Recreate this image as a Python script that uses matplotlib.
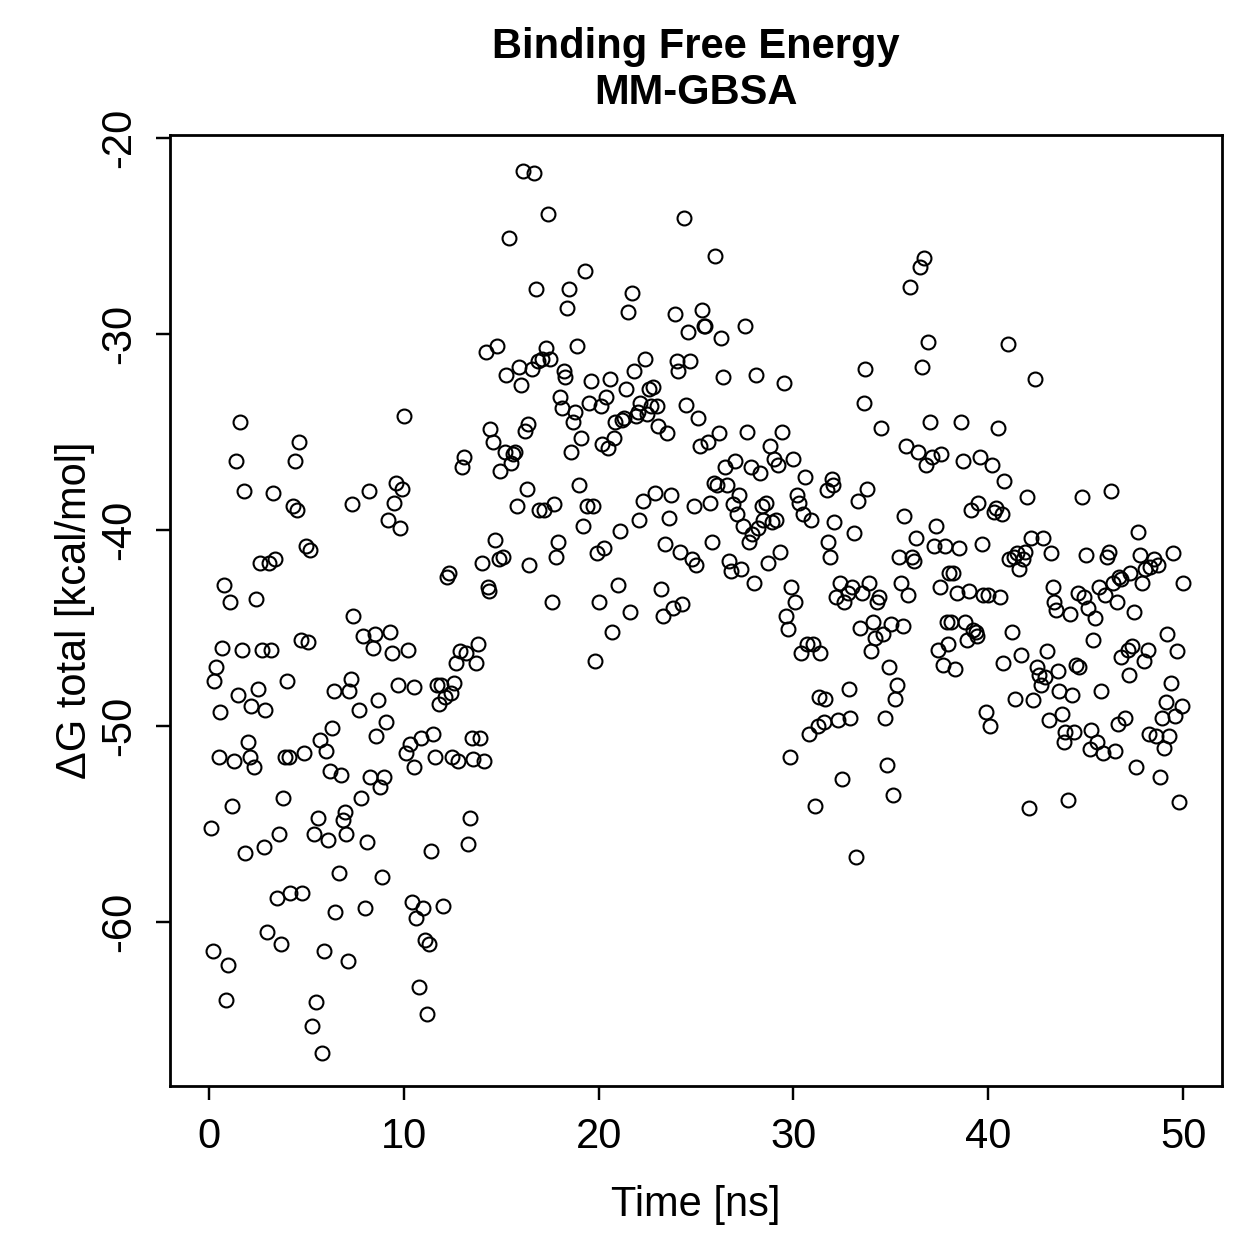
import matplotlib
matplotlib.use("Agg")
import matplotlib.pyplot as plt

# --- data (time in ns, dG in kcal/mol) ---
time_ns = [
    0.1, 0.2, 0.26, 0.36, 0.5, 0.56, 0.67, 0.77, 0.87, 0.97, 1.08, 1.2, 1.3, 1.38, 1.5, 1.59, 1.7, 1.8, 1.85, 2.0,
    2.1, 2.15, 2.3, 2.4, 2.5, 2.6, 2.7, 2.8, 2.9, 3.0, 3.1, 3.2, 3.3, 3.4, 3.5, 3.6, 3.7, 3.8, 3.9, 4.0,
    4.1, 4.15, 4.3, 4.4, 4.5, 4.6, 4.7, 4.8, 4.9, 5.0, 5.1, 5.2, 5.3, 5.4, 5.5, 5.6, 5.7, 5.8, 5.9, 6.0,
    6.1, 6.2, 6.3, 6.4, 6.45, 6.7, 6.8, 6.9, 7.0, 7.05, 7.15, 7.2, 7.3, 7.35, 7.4, 7.7, 7.8, 7.9, 8.0, 8.1,
    8.2, 8.25, 8.4, 8.5, 8.55, 8.7, 8.8, 8.9, 9.0, 9.1, 9.2, 9.3, 9.4, 9.5, 9.6, 9.7, 9.8, 9.9, 10.0, 10.1,
    10.2, 10.3, 10.4, 10.5, 10.55, 10.65, 10.8, 10.9, 11.0, 11.1, 11.2, 11.3, 11.4, 11.5, 11.6, 11.7, 11.8, 11.9, 12.0, 12.1,
    12.2, 12.3, 12.4, 12.5, 12.6, 12.7, 12.8, 12.9, 13.0, 13.1, 13.2, 13.3, 13.4, 13.5, 13.55, 13.7, 13.8, 13.9, 14.0, 14.1,
    14.2, 14.3, 14.4, 14.45, 14.6, 14.7, 14.8, 14.9, 14.95, 15.1, 15.2, 15.25, 15.4, 15.5, 15.6, 15.7, 15.8, 15.9, 16.0, 16.1,
    16.2, 16.3, 16.4, 16.45, 16.6, 16.7, 16.8, 16.9, 16.95, 17.1, 17.2, 17.3, 17.4, 17.5, 17.6, 17.7, 17.8, 17.9, 18.0, 18.1,
    18.2, 18.3, 18.4, 18.5, 18.6, 18.7, 18.8, 18.9, 19.0, 19.1, 19.2, 19.3, 19.4, 19.5, 19.6, 19.7, 19.8, 19.9, 20.0, 20.1,
    20.2, 20.3, 20.4, 20.5, 20.6, 20.7, 20.8, 20.85, 21.0, 21.1, 21.2, 21.3, 21.4, 21.5, 21.6, 21.7, 21.8, 21.9, 22.0, 22.05,
    22.1, 22.3, 22.4, 22.5, 22.6, 22.7, 22.8, 22.9, 23.0, 23.05, 23.2, 23.3, 23.4, 23.5, 23.6, 23.7, 23.8, 23.9, 24.0, 24.1,
    24.2, 24.3, 24.4, 24.5, 24.6, 24.7, 24.8, 24.9, 25.0, 25.1, 25.2, 25.3, 25.4, 25.45, 25.6, 25.7, 25.8, 25.9, 26.0, 26.1,
    26.2, 26.3, 26.4, 26.5, 26.6, 26.7, 26.8, 26.9, 27.0, 27.1, 27.2, 27.3, 27.4, 27.5, 27.6, 27.7, 27.8, 27.9, 28.0, 28.1,
    28.2, 28.3, 28.4, 28.45, 28.6, 28.7, 28.8, 28.9, 29.0, 29.1, 29.2, 29.3, 29.4, 29.5, 29.6, 29.7, 29.8, 29.9, 30.0, 30.1,
    30.2, 30.3, 30.4, 30.5, 30.6, 30.7, 30.8, 30.9, 31.0, 31.1, 31.25, 31.3, 31.35, 31.55, 31.6, 31.7, 31.8, 31.9, 32.0, 32.05,
    32.1, 32.2, 32.3, 32.4, 32.5, 32.6, 32.8, 32.85, 32.9, 33.0, 33.1, 33.2, 33.3, 33.4, 33.5, 33.6, 33.7, 33.8, 33.9, 34.0,
    34.1, 34.2, 34.3, 34.4, 34.5, 34.6, 34.7, 34.8, 34.9, 35.0, 35.1, 35.2, 35.3, 35.4, 35.5, 35.6, 35.7, 35.8, 35.9, 36.0,
    36.1, 36.2, 36.3, 36.4, 36.5, 36.6, 36.7, 36.8, 36.9, 37.0, 37.1, 37.2, 37.3, 37.4, 37.5, 37.6, 37.7, 37.8, 37.9, 37.95,
    38.0, 38.1, 38.2, 38.3, 38.4, 38.5, 38.6, 38.7, 38.8, 38.9, 39.0, 39.1, 39.2, 39.35, 39.4, 39.5, 39.6, 39.7, 39.75, 39.9,
    40.0, 40.1, 40.2, 40.3, 40.4, 40.5, 40.6, 40.7, 40.75, 40.8, 41.0, 41.05, 41.2, 41.3, 41.4, 41.5, 41.6, 41.7, 41.8, 41.9,
    42.0, 42.1, 42.2, 42.3, 42.4, 42.5, 42.6, 42.7, 42.8, 42.9, 43.0, 43.1, 43.2, 43.3, 43.4, 43.5, 43.6, 43.65, 43.8, 43.9,
    43.95, 44.1, 44.2, 44.3, 44.4, 44.5, 44.6, 44.65, 44.8, 44.9, 45.0, 45.1, 45.2, 45.3, 45.4, 45.5, 45.6, 45.7, 45.8, 45.9,
    46.0, 46.1, 46.2, 46.3, 46.4, 46.5, 46.6, 46.65, 46.7, 46.8, 46.8, 47.0, 47.2, 47.25, 47.3, 47.4, 47.5, 47.6, 47.7, 47.8,
    47.9, 48.0, 48.05, 48.2, 48.25, 48.3, 48.5, 48.6, 48.7, 48.8, 48.9, 49.0, 49.1, 49.2, 49.3, 49.4, 49.5, 49.6, 49.7, 49.8,
    49.95, 50.0,
]
dg_total = [
    -55.2, -61.5, -47.7, -47.0, -51.6, -49.3, -46.0, -42.8, -64.0, -62.2, -43.7, -54.1, -51.8, -36.5, -48.4, -34.5, -46.1, -38.0, -56.5, -50.8,
    -51.6, -49.0, -52.1, -43.5, -48.1, -41.7, -46.1, -56.2, -49.2, -60.5, -41.7, -46.1, -38.1, -41.5, -58.8, -55.5, -61.1, -53.7, -51.6, -47.7,
    -51.6, -58.5, -38.8, -36.5, -39.0, -35.5, -45.6, -58.5, -51.4, -40.8, -45.7, -41.0, -65.3, -55.5, -64.1, -54.7, -50.7, -66.7, -61.5, -51.3,
    -55.8, -52.3, -50.1, -48.2, -59.5, -57.5, -52.5, -54.8, -54.4, -55.5, -62.0, -48.2, -47.6, -38.7, -44.4, -49.2, -53.7, -45.4, -59.3, -55.9,
    -38.0, -52.6, -46.0, -45.3, -50.5, -48.7, -53.1, -57.7, -52.6, -49.8, -39.5, -45.2, -46.3, -38.6, -37.6, -47.9, -39.9, -37.9, -34.2, -51.4,
    -46.1, -50.9, -59.0, -52.1, -48.0, -59.8, -63.3, -50.6, -59.3, -60.9, -64.7, -61.1, -56.4, -50.4, -51.6, -47.9, -48.9, -47.9, -59.2, -48.5,
    -42.4, -42.2, -48.3, -51.6, -47.8, -46.8, -51.8, -46.2, -36.8, -36.3, -46.3, -56.0, -54.7, -50.6, -51.7, -46.8, -45.8, -50.6, -41.7, -51.8,
    -30.9, -42.9, -43.1, -34.85, -35.5, -40.5, -30.6, -41.5, -37.0, -41.4, -36.0, -32.1, -25.1, -36.6, -36.1, -36.0, -38.8, -31.7, -32.6, -21.7,
    -34.95, -37.9, -34.6, -41.8, -31.8, -21.8, -27.7, -31.4, -39.0, -31.3, -39.0, -30.7, -23.9, -31.3, -43.7, -38.7, -41.4, -40.6, -33.2, -33.8,
    -31.9, -32.2, -28.7, -27.7, -36.0, -34.5, -34.0, -30.6, -37.7, -35.3, -39.8, -26.8, -38.8, -33.5, -32.4, -38.8, -46.7, -41.2, -43.7, -33.7,
    -35.6, -40.9, -33.2, -35.8, -32.3, -45.2, -35.3, -34.5, -42.8, -40.05, -34.4, -34.3, -32.8, -28.9, -44.2, -27.9, -31.9, -34.2, -34.0, -39.5,
    -33.5, -38.5, -31.3, -34.1, -32.8, -33.7, -32.7, -38.1, -33.7, -34.7, -43.0, -44.4, -40.7, -35.05, -39.4, -38.2, -44.0, -29.0, -31.4, -31.9,
    -41.1, -43.8, -24.1, -33.6, -29.9, -31.4, -41.5, -38.8, -41.8, -34.3, -35.7, -28.8, -29.6, -29.6, -35.5, -38.6, -40.6, -37.6, -26.0, -37.7,
    -35.05, -30.2, -32.2, -36.8, -37.7, -41.6, -42.1, -38.7, -36.5, -39.2, -38.2, -42.0, -39.8, -29.6, -35.0, -40.6, -36.8, -40.2, -42.7, -32.1,
    -39.9, -37.1, -38.8, -39.5, -38.6, -41.7, -35.7, -39.6, -36.4, -39.5, -36.7, -41.1, -35.0, -32.5, -44.4, -45.05, -51.6, -42.9, -36.4, -43.7,
    -38.2, -38.6, -46.3, -39.2, -37.3, -45.8, -50.4, -39.5, -45.8, -54.1, -50.0, -48.5, -46.3, -49.8, -48.6, -37.95, -40.6, -41.4, -37.4, -37.7,
    -39.6, -43.4, -49.7, -42.7, -52.7, -43.7, -43.2, -48.1, -49.6, -42.9, -40.15, -56.7, -38.5, -45.0, -43.2, -33.5, -31.8, -37.9, -42.7, -46.2,
    -44.7, -45.5, -43.7, -43.4, -34.8, -45.3, -49.6, -52.0, -47.0, -44.8, -53.5, -48.6, -47.9, -41.4, -42.7, -44.9, -39.3, -35.7, -43.3, -27.6,
    -41.4, -41.6, -40.4, -36.0, -26.6, -31.7, -26.1, -36.7, -30.4, -34.5, -36.3, -40.8, -39.8, -46.1, -42.9, -36.1, -46.9, -40.8, -44.7, -45.8,
    -42.2, -44.7, -42.2, -47.1, -43.2, -40.9, -34.5, -36.5, -44.7, -45.6, -43.1, -39.0, -45.1, -45.2, -45.4, -38.6, -36.3, -40.7, -43.3, -49.3,
    -43.3, -50.0, -36.7, -39.1, -38.9, -34.8, -43.4, -39.2, -46.8, -37.5, -30.5, -41.5, -45.2, -41.4, -48.6, -41.2, -42.0, -46.4, -41.5, -41.1,
    -38.3, -54.2, -40.4, -48.7, -32.3, -47.0, -47.4, -47.9, -40.4, -47.5, -46.2, -49.7, -41.2, -42.9, -43.7, -44.1, -47.2, -48.2, -49.4, -50.8,
    -50.3, -53.8, -44.3, -48.4, -50.3, -46.9, -43.2, -47.0, -38.3, -43.4, -41.3, -44.0, -51.2, -50.2, -45.6, -44.5, -50.8, -42.9, -48.2, -51.4,
    -43.3, -41.4, -41.1, -38.0, -42.7, -51.3, -43.7, -49.9, -42.4, -42.5, -46.5, -49.6, -46.1, -47.4, -42.2, -45.9, -44.2, -52.1, -40.1, -41.3,
    -42.7, -46.7, -42.0, -46.1, -50.4, -41.9, -41.5, -50.5, -41.8, -52.6, -49.6, -51.1, -48.8, -45.3, -50.5, -47.8, -41.2, -49.5, -46.2, -53.9,
    -49.0, -42.7,
]
x_ticks = [0, 10, 20, 30, 40, 50]
y_ticks = [-60, -50, -40, -30, -20]

plt.rcParams['font.family'] = ['Liberation Sans', 'DejaVu Sans']
plt.rcParams['axes.unicode_minus'] = False

fig = plt.figure(figsize=(1259 / 250, 1259 / 250), dpi=250)
ax = fig.add_axes([170 / 1259, 1 - 1086 / 1259, (1222 - 170) / 1259, (1086 - 135) / 1259])

# open circles like R's pch = 1
ax.plot(time_ns, dg_total, linestyle='none', marker='o', markersize=4.0,
        markerfacecolor='none', markeredgecolor='black', markeredgewidth=0.6)

ax.set_xlim(-2, 52)
ax.set_ylim(-68.37, -19.85)
ax.set_xticks(x_ticks)
ax.set_yticks(y_ticks)
ax.set_yticklabels([str(v) for v in y_ticks], rotation=90, va='center')
ax.tick_params(direction='out', length=4, width=0.7, labelsize=12, pad=5)
for side in ax.spines.values():
    side.set_linewidth(0.8)

ax.set_xlabel('Time [ns]', fontsize=12, labelpad=8)
ax.set_ylabel('ΔG total [kcal/mol]', fontsize=12, labelpad=1)
ax.set_title('Binding Free Energy\nMM-GBSA', fontsize=12, fontweight='bold', pad=9)

fig.savefig('out.png', dpi=250)
